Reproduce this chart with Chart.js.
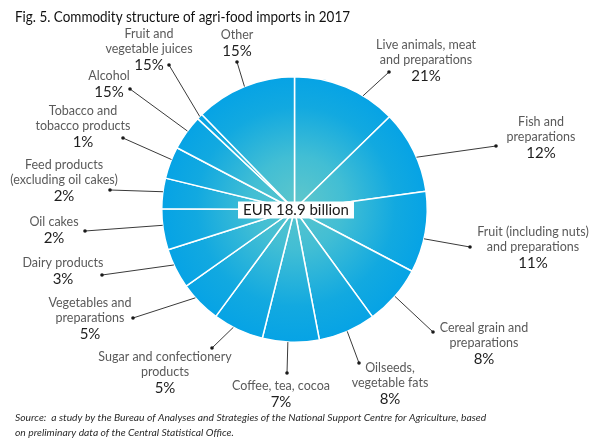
<!DOCTYPE html>
<html><head><meta charset="utf-8">
<script src="https://cdn.jsdelivr.net/npm/chart.js@4.4.1/dist/chart.umd.min.js"></script>
<style>html,body{margin:0;padding:0;background:#fff;}#wrap{width:600px;height:446px;}</style>
</head><body><div id="wrap"><canvas id="c" width="600" height="446"></canvas></div>
<script>
const titleText = "Fig. 5. Commodity structure of agri-food imports in 2017";
const categories = [
  ["Live animals, meat", "and preparations"],
  ["Fish and", "preparations"],
  ["Fruit (including nuts)", "and preparations"],
  ["Cereal grain and", "preparations"],
  ["Oilseeds,", "vegetable fats"],
  ["Coffee, tea, cocoa"],
  ["Sugar and confectionery", "products"],
  ["Vegetables and", "preparations"],
  ["Dairy products"],
  ["Oil cakes"],
  ["Feed products", "(excluding oil cakes)"],
  ["Tobacco and", "tobacco products"],
  ["Alcohol"],
  ["Fruit and", "vegetable juices"],
  ["Other"]
];
// share of the circle each slice occupies in the picture (%)
const sliceShares = [12.7, 10.1, 9.9, 7.3, 7.0, 6.9, 6.2, 5.1, 4.9, 5.0, 3.7, 3.9, 4.3, 0.7, 12.3];
// percentages printed in the labels
const labelPercents = ["21%", "12%", "11%", "8%", "8%", "7%", "5%", "5%", "3%", "2%", "2%", "1%", "15%", "15%", "15%"];
const totalLabel = "EUR 18.9 billion";
const sourceLines = [
  "Source:  a study by the Bureau of Analyses and Strategies of the National Support Centre for Agriculture, based",
  "on preliminary data of the Central Statistical Office."
];

// label layout: text centre x, first line centre y, leader dot, position along arc (0..1)
const labelLayout = [
  {cx: 426, y: 45, dot: [389, 72], t: 0.68},
  {cx: 541, y: 122, dot: [496, 146], t: 0.58},
  {cx: 533, y: 232, dot: [470, 247], t: 0.58},
  {cx: 484, y: 328, dot: [433, 332], t: 0.5},
  {cx: 390, y: 368, dot: [359, 363], t: 0.5},
  {cx: 281, y: 386, dot: [287, 373], t: 0.55},
  {cx: 165, y: 357, dot: [212, 348], t: 0.6},
  {cx: 90, y: 303, dot: [133, 318], t: 0.65},
  {cx: 63, y: 263, dot: [102, 275], t: 0.6},
  {cx: 54, y: 222, dot: [85, 231], t: 0.6},
  {cx: 64, y: 165, dot: [110, 190], t: 0.55},
  {cx: 83, y: 111, dot: [123, 138], t: 0.6},
  {cx: 109, y: 76, dot: [130, 89], t: 0.55},
  {cx: 149, y: 34, dot: [169, 65], t: 0.5},
  {cx: 237, y: 35, dot: [237, 62], t: 0.5}
];

function pieGradient(ctx) {
  const chart = ctx.chart;
  const meta = chart.getDatasetMeta(0);
  const el = meta && meta.data && meta.data[0];
  const a = chart.chartArea;
  if (!a) return '#0aa5e4';
  const cx = (a.left + a.right) / 2, cy = (a.top + a.bottom) / 2;
  const r = (el && el.outerRadius) ? el.outerRadius : Math.min(a.right - a.left, a.bottom - a.top) / 2;
  const g = chart.ctx.createRadialGradient(cx + 5, cy - 10, 0, cx, cy, r);
  g.addColorStop(0, '#5cc6cc');
  g.addColorStop(0.35, '#42bed4');
  g.addColorStop(0.75, '#12a9e0');
  g.addColorStop(1, '#06a3e5');
  return g;
}

const labelPlugin = {
  id: 'labelPlugin',
  afterDraw(chart) {
    const ctx = chart.ctx;
    const meta = chart.getDatasetMeta(0);
    ctx.save();
    meta.data.forEach((arc, i) => {
      const L = labelLayout[i];
      const ang = arc.startAngle + (arc.endAngle - arc.startAngle) * L.t;
      const sx = arc.x + Math.cos(ang) * arc.outerRadius;
      const sy = arc.y + Math.sin(ang) * arc.outerRadius;
      ctx.strokeStyle = '#3a3a3a';
      ctx.lineWidth = 1;
      ctx.beginPath();
      ctx.moveTo(sx, sy);
      ctx.lineTo(L.dot[0], L.dot[1]);
      ctx.stroke();
      ctx.fillStyle = '#1a1a1a';
      ctx.beginPath();
      ctx.arc(L.dot[0], L.dot[1], 1.8, 0, Math.PI * 2);
      ctx.fill();
    });
    ctx.textAlign = 'center';
    ctx.textBaseline = 'middle';
    categories.forEach((lines, i) => {
      const L = labelLayout[i];
      ctx.font = '12.5px Lato';
      ctx.fillStyle = '#5a5a5a';
      lines.forEach((ln, k) => ctx.fillText(ln, L.cx, L.y + k * 15));
      ctx.font = '15px Lato';
      ctx.fillStyle = '#1e1e1e';
      ctx.fillText(labelPercents[i], L.cx, L.y + (lines.length - 1) * 15 + 16);
    });
    const arc0 = meta.data[0];
    ctx.font = '15px Lato';
    const tw = ctx.measureText(totalLabel).width;
    const bx = arc0.x + 1.5, by = arc0.y + 0.5;
    ctx.fillStyle = '#ffffff';
    ctx.fillRect(bx - tw / 2 - 5, by - 8.5, tw + 10, 17);
    ctx.fillStyle = '#1a1a1a';
    ctx.fillText(totalLabel, bx, by + 0.5);
    // title, fitted to the reference width
    ctx.textAlign = 'left';
    ctx.textBaseline = 'alphabetic';
    ctx.font = '15.5px Lato';
    ctx.fillStyle = '#111';
    const ttw = ctx.measureText(titleText).width;
    const sx = Math.min(1, 335 / ttw);
    ctx.save();
    ctx.translate(15, 22);
    ctx.scale(sx, 1);
    ctx.fillText(titleText, 0, 0);
    ctx.restore();
    // source
    ctx.font = 'italic 10.3px Lato';
    ctx.fillStyle = '#2a2a2a';
    ctx.textBaseline = 'middle';
    sourceLines.forEach((ln, k) => ctx.fillText(ln, 15, 418 + k * 14.5));
    ctx.restore();
  }
};

new Chart(document.getElementById('c'), {
  type: 'pie',
  data: {
    labels: categories,
    datasets: [{
      data: sliceShares,
      backgroundColor: pieGradient,
      borderColor: '#ffffff',
      borderWidth: 1.5
    }]
  },
  options: {
    responsive: false,
    devicePixelRatio: 1,
    animation: false,
    layout: {padding: {left: 161, right: 172, top: 76, bottom: 103}},
    plugins: {legend: {display: false}, tooltip: {enabled: false}, title: {display: false}}
  },
  plugins: [labelPlugin]
});
</script>
</body></html>
